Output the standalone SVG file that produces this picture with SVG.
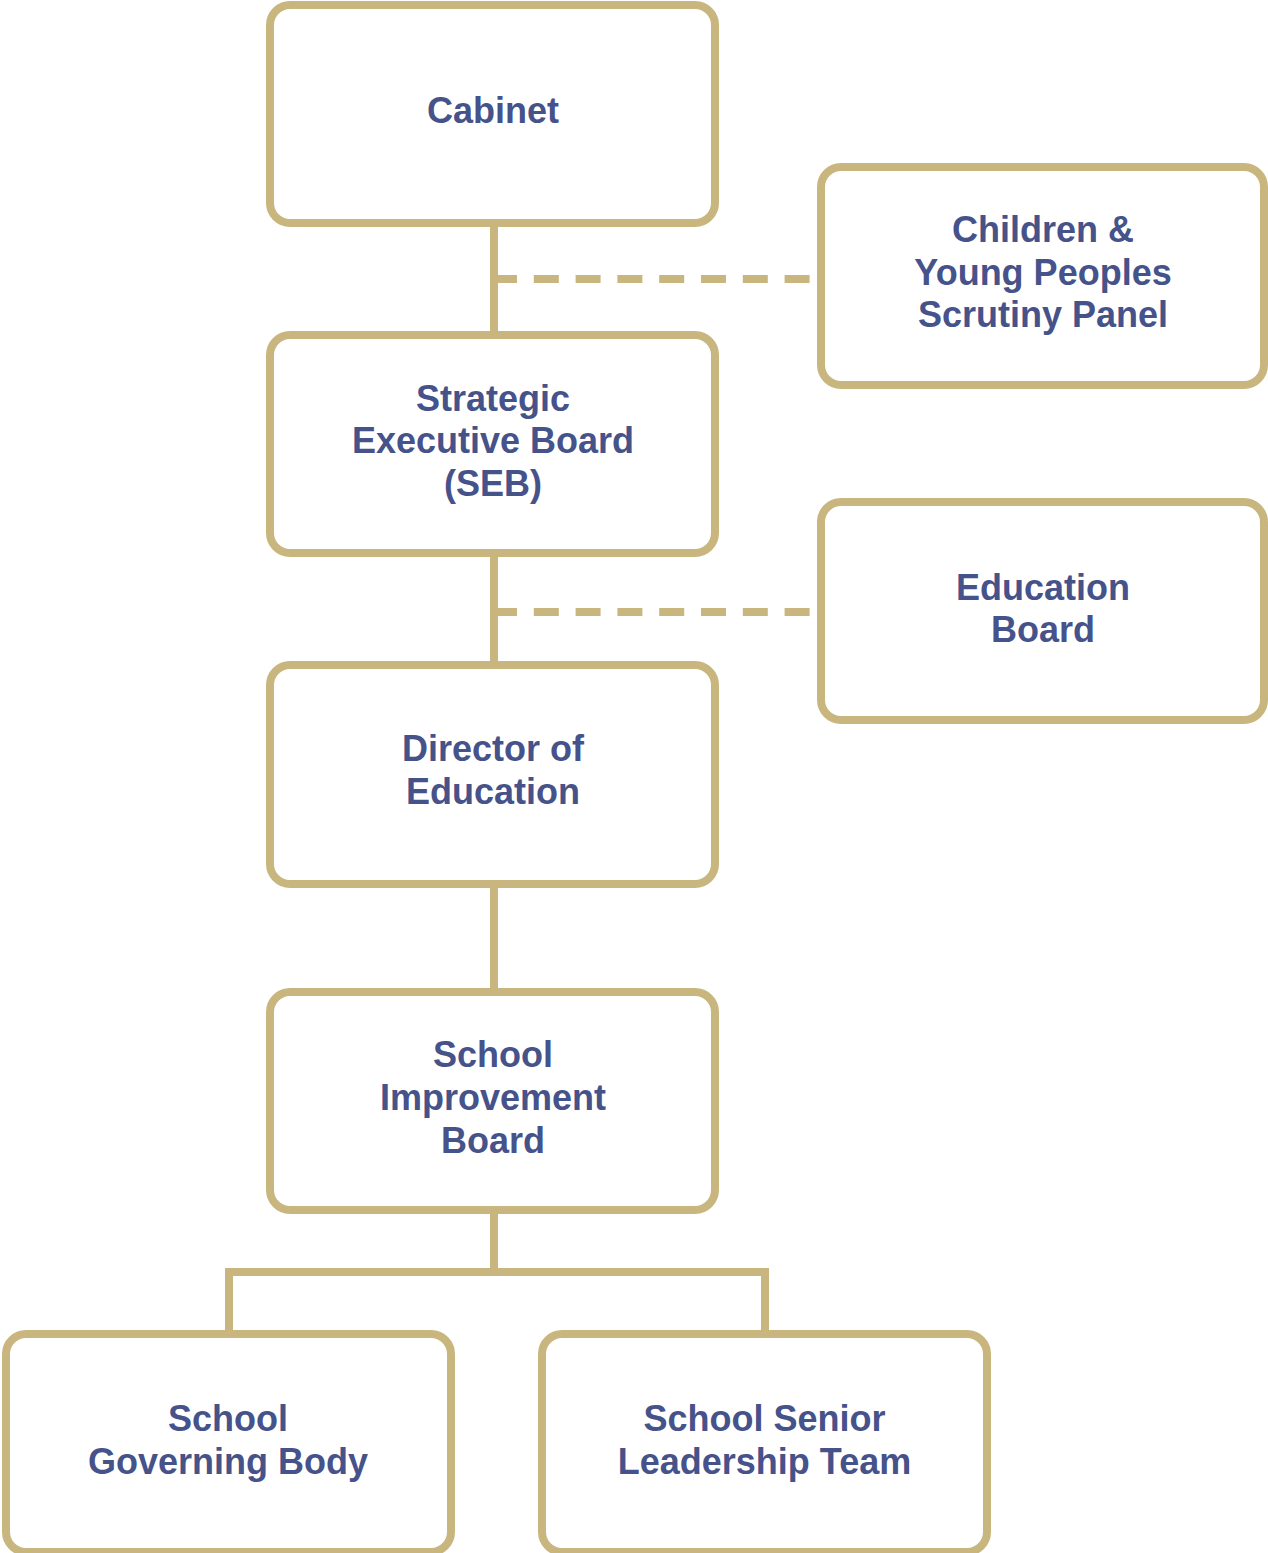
<svg xmlns="http://www.w3.org/2000/svg" width="1268" height="1553" viewBox="0 0 1268 1553">
<style>
.box{fill:#fff;stroke:#C9B67F;stroke-width:8}
.t{font-family:"Liberation Sans",Arial,Helvetica,sans-serif;font-weight:bold;font-size:36px;fill:#46528A;text-anchor:middle}
.ln{fill:none;stroke:#C9B67F;stroke-width:8}
.dash{fill:none;stroke:#C9B67F;stroke-width:8;stroke-dasharray:25 16.8}
</style>
<rect width="1268" height="1553" fill="#fff"/>
<g id="connectors">
<path class="ln" d="M494 223V335M494 553V665M494 884V992M494 1210V1272"/>
<path class="ln" d="M229 1334V1272H765V1334" stroke-linejoin="miter"/>
<path class="dash" d="M492 279H810"/>
<path class="dash" d="M492 612H810"/>
</g>
<g id="cabinet">
<rect class="box" x="270" y="5" width="445" height="218" rx="20"/>
<text class="t" x="493" y="123">Cabinet</text>
</g>
<g id="scrutiny-panel">
<rect class="box" x="821" y="167" width="443" height="218" rx="20"/>
<text class="t" x="1043" y="242">Children &amp;</text>
<text class="t" x="1043" y="284.5">Young Peoples</text>
<text class="t" x="1043" y="327">Scrutiny Panel</text>
</g>
<g id="seb">
<rect class="box" x="270" y="335" width="445" height="218" rx="20"/>
<text class="t" x="493" y="410.5">Strategic</text>
<text class="t" x="493" y="453">Executive Board</text>
<text class="t" x="493" y="495.5">(SEB)</text>
</g>
<g id="education-board">
<rect class="box" x="821" y="502" width="443" height="218" rx="20"/>
<text class="t" x="1043" y="600">Education</text>
<text class="t" x="1043" y="642">Board</text>
</g>
<g id="director">
<rect class="box" x="270" y="665" width="445" height="219" rx="20"/>
<text class="t" x="493" y="761">Director of</text>
<text class="t" x="493" y="804">Education</text>
</g>
<g id="sib">
<rect class="box" x="270" y="992" width="445" height="218" rx="20"/>
<text class="t" x="493" y="1067">School</text>
<text class="t" x="493" y="1110">Improvement</text>
<text class="t" x="493" y="1153">Board</text>
</g>
<g id="governing-body">
<rect class="box" x="6" y="1334" width="445" height="218" rx="20"/>
<text class="t" x="228" y="1431">School</text>
<text class="t" x="228" y="1473.5">Governing Body</text>
</g>
<g id="leadership-team">
<rect class="box" x="542" y="1334" width="445" height="218" rx="20"/>
<text class="t" x="764.5" y="1431">School Senior</text>
<text class="t" x="764.5" y="1473.5">Leadership Team</text>
</g>
</svg>
